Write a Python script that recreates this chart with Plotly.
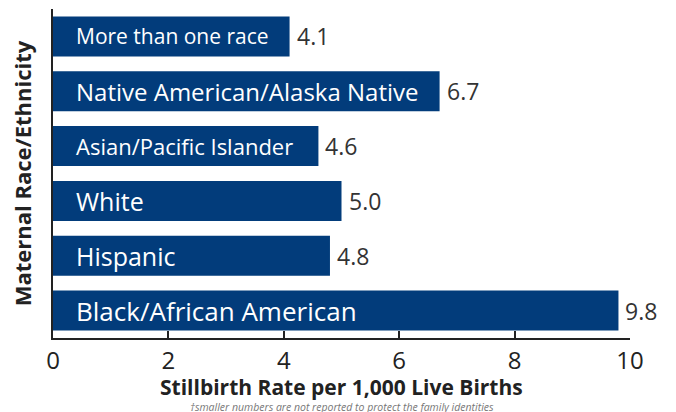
import plotly.graph_objects as go

categories = ["Black/African American", "Hispanic", "White",
              "Asian/Pacific Islander", "Native American/Alaska Native",
              "More than one race"]
rates = [9.8, 4.8, 5.0, 4.6, 6.7, 4.1]
value_labels = ["9.8", "4.8", "5.0", "4.6", "6.7", "4.1"]
tick_values = [0, 2, 4, 6, 8, 10]

# label font sizes (the original squeezes some labels)
label_sizes = {
    "Black/African American": 26,
    "Hispanic": 25,
    "White": 25,
    "Asian/Pacific Islander": 22,
    "Native American/Alaska Native": 24,
    "More than one race": 21,
}
navy = "#023C7B"
font_family = "Open Sans, sans-serif"

fig = go.Figure()
fig.add_trace(go.Bar(
    y=categories,
    x=rates,
    orientation="h",
    marker=dict(color=navy, line=dict(width=0)),
    hoverinfo="skip",
))

for cat, val, lab in zip(categories, rates, value_labels):
    fig.add_annotation(
        x=0, y=cat, xref="x", yref="y",
        text=cat, showarrow=False,
        xanchor="left", xshift=21,
        font=dict(size=label_sizes[cat], color="white", family=font_family),
    )
    fig.add_annotation(
        x=val, y=cat, xref="x", yref="y",
        text=lab, showarrow=False,
        xanchor="left", xshift=5,
        font=dict(size=23, color="#333333", family=font_family),
    )

# x axis title and footnote placed as annotations to keep them tight
fig.add_annotation(
    x=0.5, y=-0.149, xref="paper", yref="paper",
    text="<b>Stillbirth Rate per 1,000 Live Births</b>",
    showarrow=False, xanchor="center", yanchor="middle", borderpad=0,
    font=dict(size=21, color="#222222", family=font_family),
)
fig.add_annotation(
    x=0.5, y=-0.185, xref="paper", yref="paper",
    text="<i>\u2020smaller numbers are not reported to protect the family identities</i>",
    showarrow=False, xanchor="center", yanchor="top", borderpad=0,
    font=dict(size=10.5, color="#777777", family=font_family),
)

fig.update_layout(
    width=676, height=412,
    margin=dict(l=53, r=46, t=9, b=74),
    paper_bgcolor="white", plot_bgcolor="white",
    bargap=0.27,
    showlegend=False,
    font=dict(family=font_family, color="#222222"),
)
fig.update_xaxes(
    range=[0, 10], tickvals=tick_values,
    ticks="inside", ticklen=7, tickwidth=2, tickcolor="#222222",
    showline=True, linecolor="#222222", linewidth=2,
    showgrid=False, zeroline=False, automargin=False,
    tickfont=dict(size=24, color="#222222"),
)
fig.update_yaxes(
    showticklabels=False, ticks="",
    showline=True, linecolor="#222222", linewidth=2,
    showgrid=False, automargin=False,
    title=dict(text="<b>Maternal Race/Ethnicity</b>",
               font=dict(size=22, color="#222222"), standoff=13),
)

fig.write_html("out.html", config={"displayModeBar": False},
               post_script="document.body.style.margin='0';")
